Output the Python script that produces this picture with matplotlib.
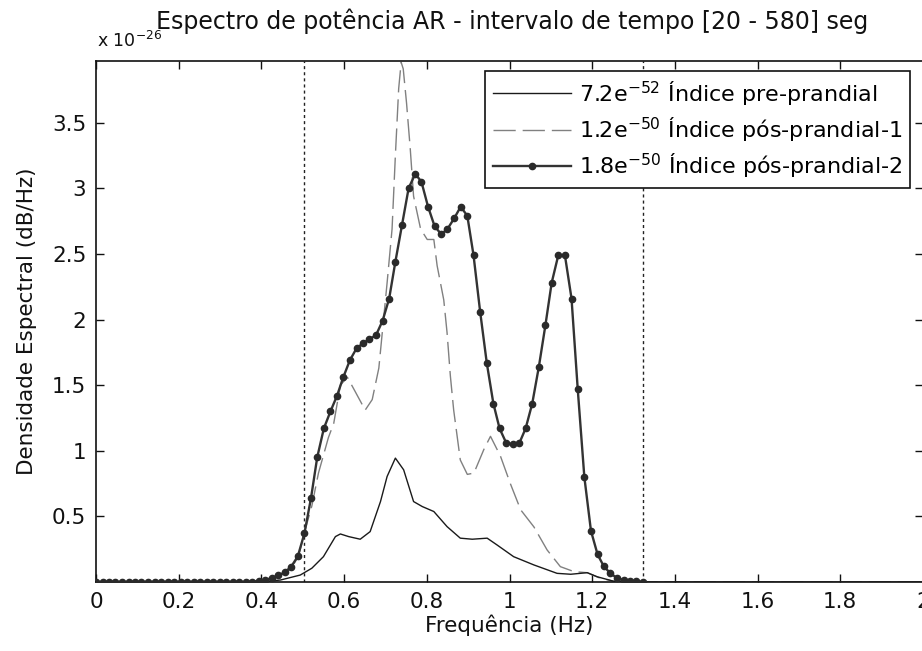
import matplotlib
matplotlib.use("Agg")
import matplotlib.pyplot as plt
from matplotlib.ticker import FixedLocator

plt.rcParams['font.family'] = ['DejaVu Sans']
plt.rcParams['mathtext.default'] = 'regular'

# ---------------- data (spectral density, units of 1e-26) ----------------
# pre-prandial (solid thin line)
freq_pre = [0.0, 0.40, 0.446, 0.494, 0.522, 0.550, 0.579, 0.591, 0.611, 0.639,
            0.663, 0.688, 0.704, 0.724, 0.744, 0.768, 0.789, 0.817, 0.849, 0.881,
            0.910, 0.946, 0.970, 1.010, 1.059, 1.115, 1.148, 1.188, 1.212, 1.253,
            1.30, 2.0]
psd_pre = [0.0, 0.0, 0.015, 0.053, 0.105, 0.193, 0.346, 0.366, 0.346, 0.326,
           0.384, 0.613, 0.804, 0.944, 0.855, 0.613, 0.575, 0.537, 0.422, 0.334,
           0.326, 0.334, 0.282, 0.193, 0.130, 0.066, 0.059, 0.071, 0.040, 0.005,
           0.0, 0.0]

# pos-prandial-1 (dashed line)
freq_pos1 = [0.0, 0.40, 0.441, 0.472, 0.490, 0.506, 0.522, 0.538, 0.562, 0.575,
             0.591, 0.608, 0.627, 0.651, 0.668, 0.684, 0.704, 0.716, 0.724, 0.732,
             0.738, 0.743, 0.751, 0.760, 0.768, 0.785, 0.801, 0.817, 0.825, 0.841,
             0.849, 0.857, 0.865, 0.881, 0.898, 0.914, 0.938, 0.954, 0.978, 1.002,
             1.027, 1.059, 1.091, 1.123, 1.156, 1.188, 1.220, 1.253, 1.30, 2.0]
psd_pos1 = [0.0, 0.0, 0.04, 0.10, 0.20, 0.40, 0.58, 0.83, 1.10, 1.21,
            1.50, 1.56, 1.45, 1.31, 1.39, 1.63, 2.28, 2.69, 3.25, 3.76,
            3.96, 3.91, 3.65, 3.30, 2.94, 2.69, 2.61, 2.61, 2.41, 2.15,
            1.90, 1.57, 1.31, 0.93, 0.82, 0.83, 1.01, 1.11, 0.96, 0.75,
            0.55, 0.42, 0.244, 0.117, 0.079, 0.071, 0.028, 0.005, 0.0, 0.0]

# pos-prandial-2 (solid line with dot markers)
freq_pos2 = [0.000, 0.016, 0.031, 0.047, 0.063, 0.079, 0.094, 0.110, 0.126, 0.142,
             0.157, 0.173, 0.189, 0.205, 0.220, 0.236, 0.252, 0.268, 0.283, 0.299,
             0.315, 0.331, 0.346, 0.362, 0.378, 0.394, 0.409, 0.425, 0.441, 0.457,
             0.472, 0.488, 0.504, 0.520, 0.535, 0.551, 0.567, 0.583, 0.598, 0.614,
             0.630, 0.646, 0.661, 0.677, 0.693, 0.709, 0.724, 0.740, 0.756, 0.772,
             0.787, 0.803, 0.819, 0.835, 0.850, 0.866, 0.882, 0.898, 0.913, 0.929,
             0.945, 0.961, 0.976, 0.992, 1.008, 1.024, 1.039, 1.055, 1.071, 1.087,
             1.102, 1.118, 1.134, 1.150, 1.165, 1.181, 1.197, 1.213, 1.228, 1.244,
             1.260, 1.276, 1.291, 1.307, 1.323]
psd_pos2 = [0.0, 0.0, 0.0, 0.0, 0.0, 0.0, 0.0, 0.0, 0.0, 0.0,
            0.0, 0.0, 0.0, 0.0, 0.0, 0.0, 0.0, 0.0, 0.0, 0.0,
            0.0, 0.0, 0.0, 0.0, 0.003, 0.008, 0.015, 0.030, 0.050, 0.075,
            0.117, 0.195, 0.37, 0.64, 0.95, 1.17, 1.30, 1.42, 1.56, 1.69,
            1.78, 1.82, 1.85, 1.88, 1.99, 2.16, 2.44, 2.72, 3.00, 3.11,
            3.05, 2.86, 2.71, 2.65, 2.69, 2.77, 2.86, 2.79, 2.49, 2.06,
            1.67, 1.36, 1.17, 1.06, 1.05, 1.06, 1.17, 1.36, 1.64, 1.96,
            2.28, 2.49, 2.49, 2.16, 1.47, 0.80, 0.39, 0.21, 0.12, 0.066,
            0.030, 0.015, 0.008, 0.004, 0.002]

band_limits = [0.504, 1.323]

labels = ['7.2e$^{-52}$ Índice pre-prandial',
          '1.2e$^{-50}$ Índice pós-prandial-1',
          '1.8e$^{-50}$ Índice pós-prandial-2']

xticks = [0, 0.2, 0.4, 0.6, 0.8, 1.0, 1.2, 1.4, 1.6, 1.8, 2.0]
xticklabels = ['0', '0.2', '0.4', '0.6', '0.8', '1', '1.2', '1.4', '1.6', '1.8', '2']
yticks = [0.5, 1.0, 1.5, 2.0, 2.5, 3.0, 3.5]
yticklabels = ['0.5', '1', '1.5', '2', '2.5', '3', '3.5']

# ---------------- figure ----------------
W, H = 922, 651
fig = plt.figure(figsize=(W / 100, H / 100), dpi=100)
left, right, top, bottom = 96, 923, 61, 582
ax = fig.add_axes([left / W, (H - bottom) / H, (right - left) / W, (bottom - top) / H])

FS = 15.5

for xv in band_limits:
    ax.axvline(xv, color='#222222', lw=1.0, dashes=(2.2, 2.2), zorder=1)

l1, = ax.plot(freq_pre, psd_pre, color='#1a1a1a', lw=1.0, zorder=3)
l2, = ax.plot(freq_pos1, psd_pos1, color='#808080', lw=1.0, dashes=(16, 5), zorder=2)
l3, = ax.plot(freq_pos2, psd_pos2, color='#333333', lw=1.7, marker='o', ms=4.5,
              mfc='#2a2a2a', mec='#2a2a2a', zorder=4)

ax.set_xlim(0, 2)
ax.set_ylim(0, 3.97)
ax.xaxis.set_major_locator(FixedLocator(xticks))
ax.set_xticklabels(xticklabels)
ax.yaxis.set_major_locator(FixedLocator(yticks))
ax.set_yticklabels(yticklabels)
ax.tick_params(direction='in', length=6, width=1.0, top=True, right=True,
               labelsize=FS, colors='#111111', pad=7)
for sp in ax.spines.values():
    sp.set_linewidth(1.2)
    sp.set_color('#111111')

ax.set_xlabel('Frequência (Hz)', fontsize=FS, labelpad=2, color='#111111')
ax.set_ylabel('Densidade Espectral (dB/Hz)', fontsize=FS, labelpad=11, color='#111111')

fig.text(512 / W, 1 - 21 / H, 'Espectro de potência AR - intervalo de tempo [20 - 580] seg',
         ha='center', va='center', fontsize=17, color='#111111')
fig.text(97 / W, 1 - 47 / H, 'x 10$^{-26}$', ha='left', va='baseline',
         fontsize=FS - 3, color='#111111')

leg = ax.legend([l1, l2, l3], labels, loc='upper right',
                bbox_to_anchor=(910 / W, 1 - 71 / H), bbox_transform=fig.transFigure,
                fontsize=16, frameon=True, fancybox=False, framealpha=1,
                handlelength=3.5, handletextpad=0.35, borderpad=0.35,
                labelspacing=0.33, borderaxespad=0)
leg.get_frame().set_edgecolor('#111111')
leg.get_frame().set_linewidth(1.2)

fig.savefig('out.png', dpi=100)
